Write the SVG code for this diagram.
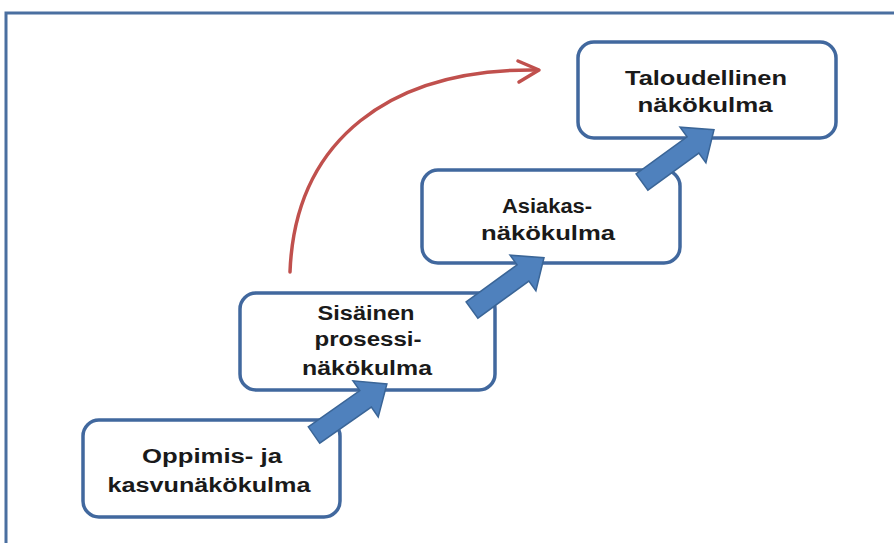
<svg xmlns="http://www.w3.org/2000/svg" width="894" height="543" viewBox="0 0 894 543">
  <style>
    .box { fill: #ffffff; stroke: #41689e; stroke-width: 3.5; }
    .lbl { font-family: "Liberation Sans", Arial, sans-serif; font-size: 20px; font-weight: bold; fill: #1a1a1a; text-anchor: middle; }
    .step { fill: #4f81bd; stroke: #3a6597; stroke-width: 1.5; stroke-linejoin: miter; }
    .trend { fill: none; stroke: #c0504d; stroke-width: 3.5; stroke-linecap: round; stroke-linejoin: round; }
  </style>
  <defs>
    <!-- block arrow, tail at origin, pointing along +x -->
    <path id="blockArrow" d="M0,-10 L63,-10 L63,-22 L89,0 L63,22 L63,10 L0,10 Z"/>
  </defs>

  <rect width="894" height="543" fill="#ffffff"/>
  <!-- outer frame, running past the right and bottom edges -->
  <rect x="6" y="13" width="1000" height="1000" fill="none" stroke="#4a6fa0" stroke-width="3"/>

  <g id="node-oppimis">
    <rect class="box" x="83" y="420" width="257" height="97" rx="16"/>
    <text class="lbl" x="212" y="463" textLength="140" lengthAdjust="spacingAndGlyphs">Oppimis- ja</text>
    <text class="lbl" x="209" y="492" textLength="203" lengthAdjust="spacingAndGlyphs">kasvunäkökulma</text>
  </g>

  <g id="node-sisainen">
    <rect class="box" x="240" y="293" width="255" height="97" rx="16"/>
    <text class="lbl" x="366" y="320" textLength="97" lengthAdjust="spacingAndGlyphs">Sisäinen</text>
    <text class="lbl" x="368" y="346" textLength="107" lengthAdjust="spacingAndGlyphs">prosessi-</text>
    <text class="lbl" x="367" y="375" textLength="130" lengthAdjust="spacingAndGlyphs">näkökulma</text>
  </g>

  <g id="node-asiakas">
    <rect class="box" x="422" y="170" width="258" height="93" rx="16"/>
    <text class="lbl" x="547" y="213" textLength="90" lengthAdjust="spacingAndGlyphs">Asiakas-</text>
    <text class="lbl" x="548" y="240" textLength="134" lengthAdjust="spacingAndGlyphs">näkökulma</text>
  </g>

  <g id="node-taloudellinen">
    <rect class="box" x="578" y="42" width="258" height="96" rx="16"/>
    <text class="lbl" x="706" y="85" textLength="162" lengthAdjust="spacingAndGlyphs">Taloudellinen</text>
    <text class="lbl" x="705" y="112" textLength="135" lengthAdjust="spacingAndGlyphs">näkökulma</text>
  </g>

  <g id="connectors">
    <use href="#blockArrow" class="step" transform="translate(314,435) rotate(-35)"/>
    <use href="#blockArrow" class="step" transform="translate(472,310) rotate(-36)"/>
    <use href="#blockArrow" class="step" transform="translate(642,182) rotate(-36)"/>
    <path class="trend" d="M290,272 C295,140 390,68 538,70"/>
    <path class="trend" d="M518,61 L539,70 L519,82"/>
  </g>
</svg>
